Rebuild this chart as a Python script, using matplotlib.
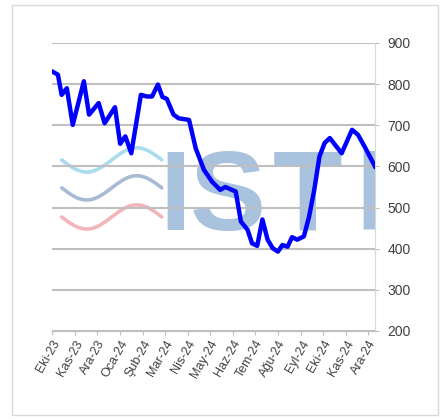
import numpy as np
import pandas as pd
import matplotlib
matplotlib.use("Agg")
import matplotlib.pyplot as plt
from matplotlib.patches import Rectangle

# weekly-ish price series
dates = [
    "2023-10-01", "2023-10-09", "2023-10-14", "2023-10-21", "2023-10-29",
    "2023-11-13", "2023-11-20", "2023-12-03", "2023-12-11", "2023-12-25",
    "2024-01-01", "2024-01-08", "2024-01-16", "2024-01-29", "2024-02-06",
    "2024-02-13", "2024-02-21", "2024-02-27", "2024-03-04", "2024-03-13",
    "2024-03-20", "2024-04-03", "2024-04-12", "2024-04-23", "2024-05-04",
    "2024-05-15", "2024-05-22", "2024-06-05", "2024-06-12", "2024-06-21",
    "2024-06-27", "2024-07-04", "2024-07-11", "2024-07-18", "2024-07-25",
    "2024-08-01", "2024-08-07", "2024-08-14", "2024-08-20", "2024-08-27",
    "2024-09-05", "2024-09-12", "2024-09-19", "2024-09-26", "2024-10-03",
    "2024-10-10", "2024-10-26", "2024-11-09", "2024-11-17", "2024-11-26",
    "2024-12-10",
]
values = [
    831, 823, 774, 790, 701,
    807, 726, 754, 705, 744,
    655, 673, 632, 774, 770,
    770, 799, 769, 764, 726,
    717, 713, 644, 592, 563,
    543, 550, 539, 466, 446,
    413, 407, 471, 422, 401,
    393, 409, 405, 428, 422,
    430, 478, 543, 624, 657,
    669, 632, 689, 677, 648,
    600,
]
month_labels = ["Eki-23", "Kas-23", "Ara-23", "Oca-24", "Şub-24", "Mar-24",
                "Nis-24", "May-24", "Haz-24", "Tem-24", "Ağu-24", "Eyl-24",
                "Eki-24", "Kas-24", "Ara-24"]
y_ticks = [200, 300, 400, 500, 600, 700, 800, 900]

x = pd.to_datetime(dates)
month_ticks = pd.date_range("2023-10-01", periods=len(month_labels), freq="MS")

plt.rcParams["font.family"] = ["Liberation Sans", "DejaVu Sans"]

fig = plt.figure(figsize=(4.47, 4.2), dpi=100)
fig.patches.append(Rectangle((12 / 447, 5 / 420), 426 / 447, 410 / 420,
                             transform=fig.transFigure, fill=False,
                             edgecolor="#d9d9d9", linewidth=1))
ax = fig.add_axes([52 / 447, 89 / 420, 323 / 447, 288 / 420])

# watermark logo: letters + three waves
logo_col = "#a9c2de"
for letter, xpos, ha in [("I", 0.38, "center"), ("S", 0.545, "center"),
                         ("T", 0.79, "center"), ("F", 0.938, "left")]:
    ax.text(xpos, 0.351, letter, transform=ax.transAxes, fontsize=82,
            fontweight="bold", color=logo_col, va="baseline", ha=ha,
            zorder=0, clip_on=True, family="Liberation Sans")
t = np.linspace(0, 1, 100)
for yc, col in [(0.594, "#9ad6ea"), (0.497, "#9ab0cd"), (0.396, "#f0a8ad")]:
    xs = 0.03 + 0.31 * t
    ys = yc - 0.042 * np.sin(2 * np.pi * t)
    ax.plot(xs, ys, transform=ax.transAxes, color=col, linewidth=2.6,
            alpha=0.85, zorder=0, solid_capstyle="round")

ax.plot(x, values, color="#0000ff", linewidth=3.2, zorder=3)

ax.set_ylim(200, 900)
ax.set_xlim(pd.Timestamp("2023-10-01"), pd.Timestamp("2024-12-10"))
ax.set_yticks(y_ticks)
ax.yaxis.tick_right()
ax.grid(axis="y", color="#bfbfbf", linewidth=1.5, zorder=1)
ax.set_xticks(month_ticks)
ax.set_xticklabels(month_labels, rotation=60, ha="right",
                   rotation_mode="anchor", fontsize=9, color="#404040")
ax.tick_params(axis="y", labelsize=10, labelcolor="#404040", length=3,
               color="#bfbfbf", pad=6)
ax.tick_params(axis="x", length=3, color="#bfbfbf", pad=2)

for side in ["top", "left"]:
    ax.spines[side].set_visible(False)
ax.spines["right"].set_color("#d9d9d9")
ax.spines["bottom"].set_color("#bfbfbf")

fig.savefig("out.png", dpi=100)
